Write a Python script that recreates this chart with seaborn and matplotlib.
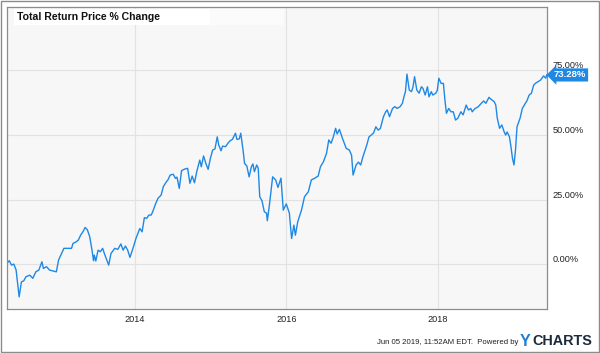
import matplotlib
matplotlib.use("Agg")
import matplotlib.pyplot as plt
import matplotlib.patches as mpatches
import pandas as pd
import seaborn as sns

# weekly total return (decimal year, % change)
years = [
    2012.32, 2012.35, 2012.38, 2012.41, 2012.44, 2012.48, 2012.51, 2012.54, 2012.57, 2012.62,
    2012.66, 2012.70, 2012.74, 2012.78, 2012.80, 2012.84, 2012.88, 2012.92, 2012.97, 2013.00,
    2013.03, 2013.07, 2013.12, 2013.17, 2013.19, 2013.23, 2013.26, 2013.29, 2013.32, 2013.35,
    2013.38, 2013.41, 2013.44, 2013.46, 2013.47, 2013.49, 2013.52, 2013.55, 2013.58, 2013.61,
    2013.66, 2013.69, 2013.74, 2013.78, 2013.82, 2013.85, 2013.88, 2013.91, 2013.94, 2013.98,
    2014.02, 2014.07, 2014.10, 2014.13, 2014.16, 2014.19, 2014.22, 2014.24, 2014.28, 2014.31,
    2014.35, 2014.38, 2014.42, 2014.44, 2014.47, 2014.51, 2014.54, 2014.56, 2014.59, 2014.62,
    2014.66, 2014.70, 2014.73, 2014.76, 2014.79, 2014.82, 2014.86, 2014.88, 2014.91, 2014.94,
    2014.97, 2015.00, 2015.03, 2015.06, 2015.09, 2015.11, 2015.14, 2015.16, 2015.20, 2015.23,
    2015.26, 2015.29, 2015.33, 2015.35, 2015.38, 2015.40, 2015.43, 2015.45, 2015.48, 2015.51,
    2015.54, 2015.56, 2015.58, 2015.61, 2015.63, 2015.65, 2015.68, 2015.71, 2015.74, 2015.75,
    2015.78, 2015.82, 2015.86, 2015.89, 2015.93, 2015.96, 2016.00, 2016.04, 2016.07, 2016.10,
    2016.12, 2016.15, 2016.20, 2016.24, 2016.29, 2016.33, 2016.37, 2016.42, 2016.45, 2016.49,
    2016.53, 2016.56, 2016.59, 2016.62, 2016.65, 2016.67, 2016.70, 2016.74, 2016.79, 2016.83,
    2016.86, 2016.88, 2016.92, 2016.95, 2016.98, 2017.01, 2017.06, 2017.09, 2017.12, 2017.15,
    2017.18, 2017.21, 2017.24, 2017.28, 2017.31, 2017.33, 2017.36, 2017.40, 2017.43, 2017.46,
    2017.50, 2017.53, 2017.55, 2017.57, 2017.59, 2017.62, 2017.65, 2017.67, 2017.69, 2017.72,
    2017.75, 2017.78, 2017.80, 2017.83, 2017.86, 2017.88, 2017.91, 2017.93, 2017.97, 2017.99,
    2018.01, 2018.04, 2018.07, 2018.09, 2018.11, 2018.14, 2018.17, 2018.20, 2018.23, 2018.26,
    2018.30, 2018.33, 2018.37, 2018.40, 2018.43, 2018.45, 2018.48, 2018.53, 2018.57, 2018.60,
    2018.63, 2018.67, 2018.70, 2018.74, 2018.76, 2018.78, 2018.81, 2018.84, 2018.87, 2018.89,
    2018.91, 2018.94, 2018.96, 2018.98, 2019.00, 2019.02, 2019.04, 2019.08, 2019.11, 2019.15,
    2019.17, 2019.20, 2019.23, 2019.26, 2019.29, 2019.32, 2019.35, 2019.39, 2019.42, 2019.43,
]
pct_change = [
    0.3, 1.3, -0.4, 0.0, -2.3, -12.7, -6.9, -6.5, -4.9, -4.3,
    -5.5, -3.0, -2.3, 0.9, -1.7, -1.0, -2.3, -2.6, -3.0, 1.6,
    3.5, 6.1, 6.1, 6.1, 8.0, 8.6, 9.3, 11.2, 12.5, 14.2,
    13.2, 10.6, 5.4, 1.3, 3.5, 1.2, 5.4, 4.8, 6.1, 3.5,
    -0.4, 4.1, 6.1, 5.7, 7.8, 5.4, 7.0, 5.4, 2.6, 6.1,
    10.0, 13.8, 12.5, 18.0, 17.7, 19.0, 19.0, 20.3, 23.5, 25.5,
    26.7, 30.0, 31.9, 32.6, 34.5, 34.8, 33.2, 33.7, 29.3, 36.2,
    36.8, 37.1, 31.3, 34.1, 31.5, 35.8, 40.3, 37.7, 41.9, 39.0,
    36.7, 41.0, 44.2, 44.6, 49.3, 46.1, 43.9, 45.7, 45.5, 46.8,
    47.8, 48.3, 50.7, 48.3, 48.5, 50.7, 44.2, 39.0, 38.0, 33.8,
    37.7, 38.8, 35.8, 38.4, 37.2, 26.1, 24.5, 20.3, 19.7, 16.8,
    23.5, 33.8, 32.6, 29.7, 33.3, 20.9, 23.3, 19.8, 9.9, 15.1,
    11.2, 16.3, 20.9, 26.1, 28.0, 32.6, 33.2, 34.1, 37.7, 39.7,
    42.9, 48.1, 46.8, 49.3, 52.6, 50.4, 52.2, 48.7, 44.8, 44.2,
    42.2, 34.5, 38.4, 39.5, 38.4, 41.6, 46.1, 49.3, 50.0, 50.8,
    53.2, 51.9, 52.6, 57.1, 59.0, 59.7, 57.1, 60.3, 61.0, 60.3,
    61.0, 62.3, 64.8, 66.8, 73.6, 67.4, 66.8, 68.7, 72.6, 67.4,
    66.2, 68.7, 68.1, 65.5, 68.7, 64.8, 66.8, 65.5, 66.2, 67.4,
    72.0, 70.0, 70.0, 63.6, 58.4, 60.3, 59.0, 59.0, 55.8, 56.5,
    59.0, 57.8, 61.6, 59.7, 60.3, 59.0, 60.1, 61.0, 62.3, 63.2,
    62.3, 64.6, 63.8, 62.9, 61.6, 56.5, 52.6, 53.9, 51.3, 50.0,
    51.2, 49.3, 45.5, 41.0, 38.4, 44.2, 53.2, 56.5, 60.3, 62.3,
    63.2, 65.5, 66.2, 69.4, 70.2, 70.7, 71.3, 72.9, 72.0, 73.28,
]
y_ticks = [0, 25, 50, 75]
x_ticks = [2014, 2016, 2018]
last_value = 73.28

df = pd.DataFrame({"year": years, "pct": pct_change})

plt.rcParams["font.family"] = ["Liberation Sans", "DejaVu Sans"]
line_blue = "#1f88e5"

fig = plt.figure(figsize=(6.0, 3.53), dpi=100)
ax = fig.add_axes([7 / 600, 1 - 309 / 353, 540 / 600, 302 / 353])
ax.set_facecolor("#f7f7f7")

sns.lineplot(data=df, x="year", y="pct", color=line_blue, linewidth=1.0, ax=ax)

ax.set_xlim(2012.32, 2019.435)
ax.set_ylim(-17.4, 99.6)
ax.set_xticks(x_ticks)
ax.set_xticklabels([str(t) for t in x_ticks])
ax.set_yticks(y_ticks)
ax.set_yticklabels([f"{t:.2f}%" for t in y_ticks])
ax.yaxis.tick_right()
ax.tick_params(axis="both", length=0, labelsize=6.6, colors="#222222")
ax.tick_params(axis="y", pad=4)
ax.tick_params(axis="x", pad=4)
# y labels sit just above their gridlines
for lbl in ax.get_yticklabels():
    lbl.set_va("bottom")
ax.set_xlabel("")
ax.set_ylabel("")
ax.grid(True, color="#e2e2e2", linewidth=0.8)
ax.set_axisbelow(True)
for side in ["left", "bottom", "top", "right"]:
    ax.spines[side].set_color("#8c8c8c")
    ax.spines[side].set_linewidth(0.9)

# title box
ax.add_patch(mpatches.Rectangle((0.013, 0.94), 0.50, 0.053, transform=ax.transAxes,
                                facecolor="white", alpha=0.6, edgecolor="none", zorder=3))
ax.add_patch(mpatches.Rectangle((0.013, 0.94), 0.363, 0.053, transform=ax.transAxes,
                                facecolor="white", edgecolor="none", zorder=3))
ax.text(0.019, 0.966, "Total Return Price % Change", transform=ax.transAxes,
        fontsize=7.6, fontweight="bold", color="#111111", va="center", ha="left", zorder=4)

# last value tag
ax.annotate(f"{last_value:.2f}%", xy=(1.0, last_value), xycoords=("axes fraction", "data"),
            xytext=(4.8, 0), textcoords="offset points", fontsize=6.8, fontweight="bold",
            color="white", va="center", ha="left", annotation_clip=False,
            bbox=dict(boxstyle="larrow,pad=0.22", facecolor=line_blue, edgecolor="none"))

# footer
fig.text(518 / 600, 1 - 343 / 353, "Jun 05 2019, 11:52AM EDT.  Powered by", fontsize=5.6,
         color="#222222", ha="right", va="center")
fig.text(520 / 600, 1 - 341 / 353, "Y", fontsize=11.5, fontweight="bold", color="#1a7fd8",
         ha="left", va="center")
fig.text(532 / 600, 1 - 341 / 353, "CHARTS", fontsize=10.4, fontweight="bold", color="#1d2a3a",
         ha="left", va="center")

# outer frame
fig.patches.append(mpatches.Rectangle((0.0015, 0.002), 0.997, 0.995, transform=fig.transFigure,
                                      fill=False, edgecolor="#8c8c8c", linewidth=1.0))

fig.savefig("out.png", dpi=100)
